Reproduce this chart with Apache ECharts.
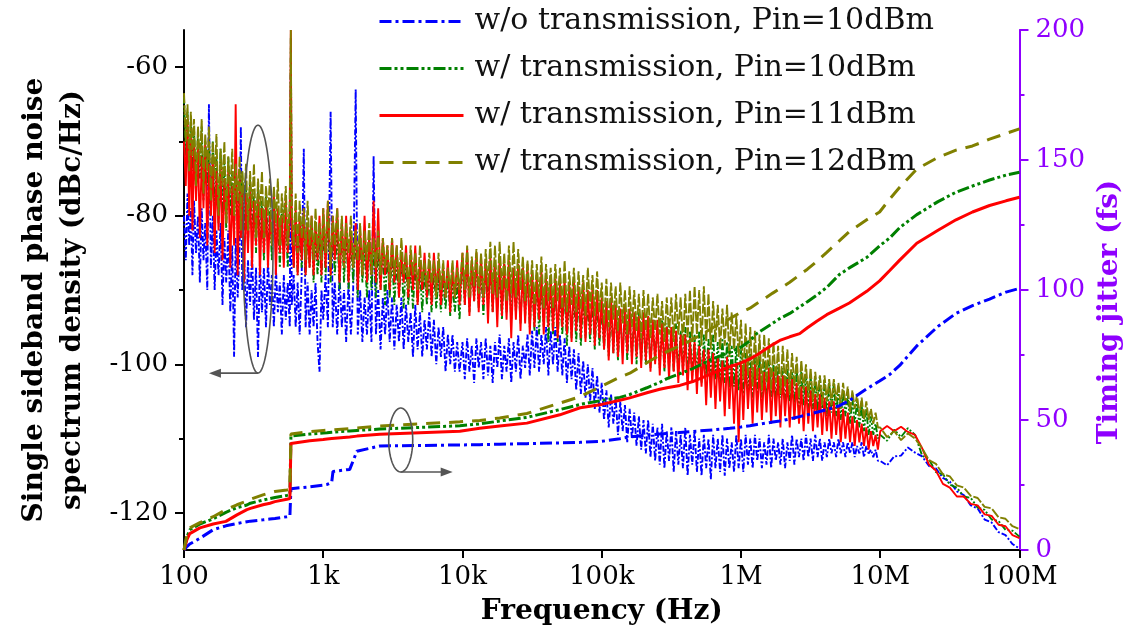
<!DOCTYPE html>
<html><head><meta charset="utf-8">
<script src="https://cdn.jsdelivr.net/npm/echarts@6/dist/echarts.min.js"></script>
<style>html,body{margin:0;padding:0;background:#fff}#c{width:1132px;height:640px}</style>
</head><body><div id="c"></div>
<script>
// ---------- DATA ----------
const seriesNames = ['w/o transmission, Pin=10dBm','w/ transmission, Pin=10dBm','w/ transmission, Pin=11dBm','w/ transmission, Pin=12dBm'];
const xTickLabels = ['100','1k','10k','100k','1M','10M','100M'];
const leftLabelValues = [-120,-100,-80,-60];
const leftMinorTickValues = [-110,-90,-70];

// phase-noise frequency grid (Hz)
const noiseFreq = [
100,103,106,109,112,115,118,122,126,130,134,138,142,147,151,156,161,166,171,177,
183,189,195,201,208,215,222,229,235,243,251,256,262,270,279,288,298,308,318,329,
340,351,363,375,388,401,414,428,442,457,472,488,504,521,538,556,575,585,594,614,
634,655,677,700,725,747,772,798,825,852,880,910,940,971,
1000,1040,1080,1130,1170,1210,1260,1310,1360,1410,1460,1520,1580,1640,1710,1770,1840,1910,1980,2060,
2140,2220,2300,2390,2480,2580,2680,2780,2890,3000,3120,3240,3370,3500,3640,3780,3930,4080,4240,4410,
4580,4760,4950,5140,5340,5550,5770,6000,6230,6480,6730,7000,7270,7560,7850,8160,8480,8810,9160,9520,
10000,10390,10800,11220,11660,12120,12590,13080,13590,14130,14680,15250,15850,16470,17110,17780,18480,19200,19950,20730,
21540,22390,23260,24180,25120,26100,27120,28180,29290,30430,31620,32860,34150,35480,36870,38310,39810,41370,42990,44670,
46420,48240,50120,52080,54120,56230,58430,60720,63100,65570,68130,70790,73560,76440,79430,82540,85770,89130,92610,96240,
1.000e5,1.039e5,1.080e5,1.122e5,1.166e5,1.212e5,1.259e5,1.308e5,1.359e5,1.413e5,1.468e5,1.525e5,1.585e5,1.647e5,1.711e5,1.778e5,1.848e5,1.920e5,1.995e5,2.073e5,
2.154e5,2.239e5,2.326e5,2.418e5,2.512e5,2.610e5,2.712e5,2.818e5,2.929e5,3.043e5,3.162e5,3.286e5,3.415e5,3.548e5,3.687e5,3.831e5,3.981e5,4.137e5,4.299e5,4.467e5,
4.642e5,4.824e5,5.012e5,5.208e5,5.412e5,5.623e5,5.843e5,6.072e5,6.310e5,6.557e5,6.813e5,7.079e5,7.356e5,7.644e5,7.943e5,8.254e5,8.577e5,8.913e5,9.261e5,9.624e5,
1.000e6,1.039e6,1.080e6,1.122e6,1.166e6,1.212e6,1.259e6,1.308e6,1.359e6,1.413e6,1.468e6,1.525e6,1.585e6,1.647e6,1.711e6,1.778e6,1.848e6,1.920e6,1.995e6,2.073e6,
2.154e6,2.239e6,2.326e6,2.418e6,2.512e6,2.610e6,2.712e6,2.818e6,2.929e6,3.043e6,3.162e6,3.286e6,3.415e6,3.548e6,3.687e6,3.831e6,3.981e6,4.137e6,4.299e6,4.467e6,
4.642e6,4.824e6,5.012e6,5.208e6,5.412e6,5.623e6,5.843e6,6.072e6,6.310e6,6.557e6,6.813e6,7.079e6,7.356e6,7.644e6,7.943e6,8.254e6,8.577e6,8.913e6,9.261e6,9.624e6,
1.00e7,1.12e7,1.26e7,1.41e7,1.58e7,1.78e7,2.00e7,2.24e7,2.51e7,2.82e7,3.16e7,3.55e7,3.98e7,4.47e7,5.01e7,
5.62e7,6.31e7,7.08e7,7.94e7,8.91e7,1.00e8];

// SSB phase noise (dBc/Hz)
const noiseWoP10 = [
-80,-86,-77,-84,-79,-88,-78,-85,-80,-89,-79,-86,-81,-90,-65,-87,-80,-90,-82,-88,
-81,-92,-83,-89,-82,-93,-84,-99,-83,-91,-84,-68,-90,-85,-95,-86,-92,-85,-94,-87,
-99,-86,-93,-87,-95,-86,-92,-88,-95,-87,-93,-89,-96,-88,-94,-89,-95,-61,-92,-88,
-95,-89,-96,-88,-71,-95,-89,-96,-90,-95,-89,-97,-101,-90,
-94,-88,-95,-66,-95,-89,-96,-88,-95,-90,-97,-89,-96,-90,-63,-96,-90,-97,-91,-96,
-90,-97,-72,-96,-90,-98,-91,-96,-90,-97,-91,-98,-92,-97,-91,-98,-92,-97,-93,-99,
-92,-98,-93,-99,-94,-98,-93,-99,-94,-100,-95,-99,-95,-101,-96,-100,-96,-101,-97,-101,
-97,-102,-96.5,-101,-97.5,-102.5,-96.5,-100.5,-97,-102,-96.5,-101.5,-97.5,-102.5,-97,-100.5,-96,-102,-97.5,-101,
-96.5,-102.5,-97,-101,-96,-102,-97.5,-100.5,-96,-101.5,-95.5,-100.5,-95,-101,-96,-100,-95,-101.5,-95.5,-100,
-95,-101,-96,-101.5,-96.5,-102.5,-97.5,-102,-98,-103.5,-98.5,-104,-99.5,-104.5,-100,-105,-100.5,-106,-101.5,-106.5,
-102.5,-107.5,-103.5,-108.5,-104,-108,-104.5,-109.5,-105,-109,-105.5,-110.5,-106,-110,-106.5,-111,-107,-111.5,-107.5,-112,
-107.5,-112.5,-108,-113,-108.5,-113.5,-108,-114,-109,-113,-108.5,-114.5,-109,-113.5,-109.5,-114,-108.5,-115,-109.5,-113.5,
-109,-114.5,-110,-115,-109.5,-114,-110,-115.5,-109.5,-114,-110,-114.5,-109.5,-115,-110,-114,-110.5,-114.5,-109.5,-114,
-110,-114.5,-109.5,-113.5,-110,-114,-109.5,-113,-110,-114,-110.5,-113.5,-109.5,-114,-110,-113,-110.5,-113.5,-110,-114,
-110.5,-113,-109.5,-113.5,-110,-112.5,-110,-113,-109.5,-112.5,-110,-113,-109.5,-112.5,-110,-113,-110.5,-112.5,-110,-112,
-110.5,-112.5,-110,-112,-110.5,-112.5,-110.5,-112,-110.5,-112.5,-111,-112,-110.5,-112.5,-111,-112,-111.5,-112.5,-111.5,-113,
-113,-113.6,-112.4,-112.3,-111.2,-111.9,-112.4,-113.7,-114,-115.3,-115.8,-117.1,-117.6,-119,-119.4,
-120.9,-121.3,-122.6,-123,-124.2,-124.8];
const noiseP10 = [
-64,-72,-66,-75,-67,-74,-68,-77,-69,-75,-68,-78,-70,-76,-71,-80,-70,-79,-72,-81,
-71,-80,-73,-82,-72,-80,-74,-83,-73,-81,-75,-83,-74,-82,-76,-84,-75,-83,-77,-85,
-76,-84,-78,-86,-77,-84,-79,-86,-78,-85,-80,-87,-79,-86,-80,-87,-79,-56,-81,-87,
-80,-88,-81,-87,-80,-88,-82,-87,-81,-89,-82,-88,-83,-89,
-81,-88,-80,-89,-81,-88,-82,-90,-81,-89,-82,-90,-83,-89,-82,-91,-83,-89,-84,-91,
-83,-90,-84,-91,-85,-90,-84,-92,-85,-91,-85,-92,-86,-91,-85,-92.5,-86,-92,-87,-92.5,
-86,-92,-87,-93,-87,-92,-88,-93,-87,-92.5,-88,-93,-89,-92.5,-88,-93.5,-89,-93,-89,-94,
-86,-92,-85.5,-93,-86.5,-91.5,-86,-92.5,-87,-93.5,-86.5,-92,-87,-93,-86,-92.5,-87.5,-94,-86.5,-93,
-87,-94,-87.5,-93,-88,-94.5,-87,-93.5,-88,-95,-88.5,-95.5,-88,-96,-89,-95,-88.5,-97,-89.5,-96,
-89,-97,-90,-96,-89.5,-97.5,-90,-96.5,-90.5,-97,-90.5,-97.5,-91,-96.5,-91.5,-97,-91,-98,-91.5,-97.5,
-92,-98,-91.5,-99,-92.5,-98.5,-92,-99.5,-93,-98.5,-92.5,-99.5,-93,-99,-93.5,-100,-93,-99.5,-94,-100,
-93.5,-100.5,-94,-99.5,-94.5,-100.5,-94,-101,-94.5,-100.5,-95,-101,-94.5,-101.5,-95.5,-101,-95,-102,-95.5,-101.5,
-96,-102,-95.5,-102.5,-96,-101.5,-96.5,-102.5,-96,-102,-97,-103,-96.5,-102.5,-97,-103.5,-97.5,-103,-97.5,-103.5,
-98,-104,-98.5,-103.5,-98.5,-104.5,-99,-104,-99,-104.5,-99.5,-105,-99.5,-104.5,-100,-105,-100,-104.5,-100.5,-105.5,
-100.5,-105,-101,-105.5,-100.5,-106,-101,-105.5,-101.5,-106,-101.5,-106,-102,-106.5,-101.5,-106,-102,-107,-102.5,-106.5,
-102.5,-107,-103,-107.5,-103.5,-107,-104,-108,-104.5,-108,-105,-108.5,-105.5,-109,-106,-109.5,-107,-109.5,-108,-110,
-109.5,-110.3,-108.8,-109.8,-108.6,-109.5,-112.3,-112.8,-114.5,-114.8,-116.2,-116.6,-117.8,-118,-119.3,
-119.6,-120.9,-121.1,-122.3,-122.4,-123.2];
const noiseP11 = [
-70,-76,-67,-80,-69,-82,-70,-78,-71,-83,-72,-79,-70,-84,-73,-80,-72,-85,-74,-82,
-73,-86,-75,-81,-74,-87,-76,-84,-65,-88,-75,-83,-76,-89,-77,-85,-76,-87,-78,-84,
-77,-88,-79,-85,-78,-87,-80,-84,-77,-88,-79,-85,-80,-87,-78,-85,-80,-55,-82,-87,
-79,-88,-80,-86,-79,-88,-81,-87,-80,-88,-81,-86,-80,-88,
-79,-87,-78,-88,-80,-86,-79,-89,-81,-87,-80,-89,-82,-87,-81,-90,-82,-88,-80,-89,
-83,-88,-78,-89,-79,-90,-83,-88,-84,-90,-83,-89,-84,-91,-85,-89,-84,-91,-85,-90,
-84,-92,-86,-90,-85,-91,-86,-92,-85,-90,-86,-92,-87,-91,-86,-93,-87,-91,-86,-92,
-85,-92,-84.5,-93.5,-86,-91.5,-85,-93,-85.5,-92,-86,-94.5,-85.5,-93,-86.5,-95,-85.5,-93.5,-86.5,-94,
-86,-96.5,-87,-94,-86.5,-95.5,-87,-94.5,-86.5,-96,-87.5,-95,-88,-94,-87.5,-96,-88.5,-95,-88,-95.5,
-88.5,-96.5,-89,-95,-88.5,-96,-89,-97,-88.5,-95.5,-89.5,-96.5,-89,-97,-90,-96,-89.5,-97.5,-90,-96.5,
-91,-98,-91.5,-99.5,-91,-98.5,-92,-99,-92.5,-100,-92,-98.5,-92.5,-100,-93,-99,-93.5,-100.5,-93,-99.5,
-93.5,-101,-94,-100,-94,-101.5,-94.5,-100.5,-95,-102,-95,-101,-95.5,-102.5,-96,-101.5,-96,-103.5,-96.5,-102.5,
-97,-104,-97.5,-103,-98,-105.5,-98,-104.5,-98.5,-106,-99,-105,-99.5,-107,-99,-106,-100,-108,-100,-110.5,
-100,-107.5,-99.5,-106,-100.5,-108,-100,-106.5,-100.5,-107.5,-101,-106.5,-100.5,-108,-101,-107,-101.5,-108.5,-101.5,-107,
-102,-108.5,-102,-107.5,-102.5,-108,-103,-109,-103,-108,-103.5,-109,-104,-108.5,-104,-109.5,-104.5,-109,-105,-110,
-105,-109.5,-105.5,-110.5,-106,-110,-106.5,-110.5,-107,-111,-107.5,-110.5,-108,-111,-108.5,-111.5,-109,-111,-109.5,-111.5,
-109,-108.3,-109,-108.4,-109.1,-109.5,-111.3,-113.5,-114.3,-116.1,-116.6,-117.8,-117.8,-118.8,-119,
-120.2,-120.4,-121.6,-121.8,-123,-123.4];
const noiseP12 = [
-63.5,-70,-65,-74,-66,-72,-67,-76,-68,-73,-67,-77,-69,-74,-68,-78,-70,-75,-69,-80,
-71,-76,-70,-81,-72,-77,-71,-80,-73,-78,-72,-82,-74,-78,-73,-82,-74,-79,-73,-83,
-75,-80,-74,-83,-76,-80,-75,-84,-76,-81,-75,-84,-77,-81,-76,-84,-78,-55,-79,-84,
-77,-85,-78,-83,-79,-86,-78,-84,-80,-86,-79,-85,-81,-86,
-79,-85,-78,-87,-80,-84,-79,-86,-80,-87,-81,-85,-80,-87,-82,-86,-81,-88,-82,-86,
-81,-88,-83,-87,-82,-88,-83,-87,-84,-89,-83,-88,-84,-89,-83,-88,-85,-90,-84,-88,
-85,-90,-84,-89,-86,-90,-85,-89,-86,-91,-85,-90,-86,-91,-87,-90,-86,-91,-87,-90,
-85,-90,-84,-91,-85.5,-89.5,-84.5,-90.5,-85,-91,-84.5,-89.5,-83.5,-90.5,-84,-91,-83.5,-90,-85,-91.5,
-84,-90.5,-83.5,-91,-84.5,-90,-85.5,-91.5,-86,-91,-86,-92,-86.5,-91,-85.5,-92.5,-86.5,-91.5,-87,-92.5,
-86.5,-91.5,-87,-92.5,-86,-93,-87.5,-92,-87,-93,-87.5,-92.5,-88,-93.5,-87,-92.5,-88,-93.5,-87.5,-93,
-89,-94.5,-88.5,-95,-89,-94,-89.5,-95.5,-89,-94.5,-90,-96,-89.5,-95,-90,-95.5,-90.5,-96.5,-90,-95.5,
-90.5,-96.5,-91,-95.5,-90.5,-96,-91.5,-97,-91,-96,-91,-97,-90.5,-96,-91,-97.5,-90.5,-96.5,-90,-97,
-89.5,-96,-90,-97.5,-89.5,-97,-90.5,-98,-91.5,-97,-92,-98,-92.5,-97.5,-92,-99,-93,-98,-93.5,-99,
-94,-102,-94.5,-101.5,-95,-103,-95.5,-102,-96,-103.5,-96,-102.5,-96.5,-103.5,-97,-102.5,-97.5,-104,-97.5,-103,
-98,-104,-98.5,-103,-99,-104.5,-99.5,-103.5,-100,-104.5,-100.5,-105,-101,-104.5,-101.5,-105.5,-101.5,-105,-102,-105.5,
-102,-105,-102.5,-106,-102.5,-105.5,-103,-106.5,-103.5,-106,-104,-107,-104.5,-107.5,-105,-107.5,-106,-108,-106.5,-108.5,
-108.5,-109.8,-109,-110.2,-109.3,-110,-111.3,-112.9,-113.4,-114.8,-115.1,-116.3,-116.6,-117.7,-118,
-119.2,-119.4,-120.6,-120.8,-121.8,-122.2];

// integrated timing jitter (fs)
const jitterFreq = [100,105,110,130,162,200,240,283,300,369,414,450,548,576,586,800,1000,1065,1150,1175,
1550,1745,2550,9570,13300,18500,29000,50000,70000,100000,135000,159000,211000,261000,294000,364000,451000,628000,832000,
1.0e6,1.16e6,1.3e6,1.69e6,1.9e6,2.24e6,2.64e6,3.0e6,3.5e6,4.13e6,5.1e6,6.0e6,8.0e6,9.9e6,
1.17e7,1.38e7,1.83e7,2.6e7,3.5e7,4.6e7,6.1e7,8.0e7,1.0e8];
const jitterWoP10 = [0,1.3,2.3,4.5,7.8,9.3,10.2,10.9,11.1,11.6,11.9,12.1,12.8,13,23.6,24.3,24.9,25.2,26,30.2,
31,38,40,40.4,40.5,40.7,40.9,41.2,41.4,41.8,42.8,43.5,44.2,44.6,44.8,45.2,45.6,46.2,46.8,
47.3,47.8,48.3,49.2,49.6,50.4,51.3,52,53,54,55.5,57.5,62,65,
67.5,71,78.5,86,91,94,96.5,99.2,100.6];
const jitterP10 = [0,5,7.8,10,12,14.5,16.3,17.3,18,19.2,19.8,20.2,21,21.3,43.8,44.6,45,45.1,45.3,45.4,
45.8,46,46.5,47.8,48.5,49.6,51,54,56,57.5,58.7,59.8,62.4,64.5,65.9,67.8,69.8,73.6,76,
78,80.5,83.3,87.2,89,91,93.5,95.5,98,101,106,108.5,112.5,117,
120,124,129,134,137.6,140,142.3,144.2,145.3];
const jitterP11 = [0,4,6.3,8.5,10,11,13.5,15.5,16,17.4,18,18.6,19.5,19.8,41,42,42.5,42.7,42.9,43,
43.5,43.8,44.5,45.7,46.8,47.7,48.8,52,54.7,56,57.6,58.5,60.5,61.8,62.4,63.3,64.8,68,70.5,
72,73.5,75,79,80.6,82,83.2,85.5,88,90.5,93,95,99.5,103.5,
107.5,111.5,118,123,127,130,132.5,134.3,135.7];
const jitterP12 = [0,6,8.5,10.5,12.8,15.5,17.4,18.8,19.5,21.2,22,22.5,23.1,23.3,44.6,45.5,46,46.1,46.2,46.3,
46.7,46.9,47.7,49.3,49.8,50.8,52.5,56.5,59,63,66.5,68,72,75,76.3,78.5,81,85.5,89,
91.5,93,94.8,98.8,100.5,103,105.8,108,111,114.5,119,122.5,127,130,
135,139.5,146.5,151,153.8,155.4,158,160.2,162];

// ---------- CHART ----------
const FONT = 'DejaVu Serif';
const PURPLE = '#8f00ff';
const colors = ['#0000ff','#008000','#ff0000','#808000'];
const jitterDash = [[12,4,3,4],[12,3,3,3,3,3],'solid',[14,9]];
const noiseDash = [[6,2,2,2],[7,2,2,2,2,2],'solid',[10,2]];
const noiseSets = [noiseWoP10, noiseP10, noiseP11, noiseP12];
const jitterSets = [jitterWoP10, jitterP10, jitterP11, jitterP12];
const pair = (xs, ys) => xs.map((x, i) => [x, ys[i]]);

const series = [];
seriesNames.forEach((n, i) => {
  series.push({
    type: 'line', name: n, xAxisIndex: 0, yAxisIndex: 1, z: 5,
    data: pair(jitterFreq, jitterSets[i]), symbol: 'none', animation: false,
    lineStyle: {color: colors[i], width: 3, type: jitterDash[i]},
    itemStyle: {color: colors[i]}
  });
});
seriesNames.forEach((n, i) => {
  series.push({
    type: 'line', name: n, xAxisIndex: 0, yAxisIndex: 0, z: 2,
    data: pair(noiseFreq, noiseSets[i]), symbol: 'none', animation: false,
    lineStyle: {color: colors[i], width: 1.9, type: noiseDash[i]},
    itemStyle: {color: colors[i]}
  });
});

const chart = echarts.init(document.getElementById('c'));
chart.setOption({
  animation: false,
  backgroundColor: '#fff',
  grid: {left: 184, right: 112, top: 30, bottom: 90, containLabel: false},
  legend: {
    data: seriesNames, orient: 'vertical', left: 378, top: 5, padding: 0,
    itemWidth: 84, itemHeight: 14, itemGap: 14,
    itemStyle: {opacity: 0},
    lineStyle: {width: 3},
    textStyle: {fontFamily: FONT, fontSize: 30, color: '#111', lineHeight: 33, padding: [0,0,0,6]}
  },
  xAxis: {
    type: 'log', logBase: 10, min: 100, max: 1e8,
    axisLine: {lineStyle: {color: '#000', width: 2}},
    axisTick: {show: true, length: 8, lineStyle: {color: '#000', width: 2}},
    axisLabel: {margin: 14, fontFamily: FONT, fontSize: 26, color: '#000',
      formatter: v => xTickLabels[Math.round(Math.log10(v)) - 2] || ''},
    splitLine: {show: false},
    name: 'Frequency (Hz)', nameLocation: 'middle', nameGap: 48,
    nameTextStyle: {fontFamily: FONT, fontSize: 28, fontWeight: 'bold', color: '#000'}
  },
  yAxis: [
    {
      type: 'value', position: 'left', min: -125, max: -55,
      axisLine: {show: true, lineStyle: {color: '#000', width: 2}},
      axisTick: {show: true, customValues: leftLabelValues, length: 9, lineStyle: {color: '#000', width: 2}},
      axisLabel: {customValues: leftLabelValues, margin: 16, fontFamily: FONT, fontSize: 26, color: '#000'},
      splitLine: {show: false},
      name: 'Single sideband phase noise\nspectrum density (dBc/Hz)',
      nameLocation: 'middle', nameRotate: 90, nameGap: 92,
      nameTextStyle: {fontFamily: FONT, fontSize: 28, fontWeight: 'bold', color: '#000', lineHeight: 38, align: 'center', padding: [0, 20, 0, 0]}
    },
    {
      type: 'value', position: 'right', min: 0, max: 200, interval: 50,
      axisLine: {show: true, lineStyle: {color: PURPLE, width: 2}},
      axisTick: {show: true, length: 9, lineStyle: {color: PURPLE, width: 2}},
      minorTick: {show: true, splitNumber: 2, length: 5, lineStyle: {color: PURPLE, width: 2}},
      axisLabel: {margin: 16, fontFamily: FONT, fontSize: 26, color: PURPLE},
      splitLine: {show: false},
      name: 'Timing jitter (fs)', nameLocation: 'middle', nameRotate: 90, nameGap: 70,
      nameTextStyle: {fontFamily: FONT, fontSize: 28, fontWeight: 'bold', color: PURPLE, padding: [0, 44, 0, 0]}
    },
    {
      type: 'value', position: 'left', min: -125, max: -55,
      axisLine: {show: false},
      axisTick: {show: true, customValues: leftMinorTickValues, length: 5, lineStyle: {color: '#000', width: 2}},
      axisLabel: {show: false},
      splitLine: {show: false}
    }
  ],
  series: series
});

// ---------- annotations (ellipses + arrows) ----------
function ellipse(cx, cy, rx, ry) {
  const pts = [];
  for (let k = 0; k < 90; k++) {
    const t = k / 90 * Math.PI * 2;
    pts.push([cx + rx * Math.cos(t), cy + ry * Math.sin(t)]);
  }
  return pts;
}
const GRAY = '#555';
const c1 = chart.convertToPixel({seriesIndex: 4}, [340, -84.5]);
const t1 = chart.convertToPixel({seriesIndex: 4}, [151, -84.5]);
const c2 = chart.convertToPixel({seriesIndex: 0}, [3600, 42.3]);
const t2 = chart.convertToPixel({seriesIndex: 0}, [8500, 42.3]);
const r1 = [15, 124], r2 = [12, 32];
const b1 = c1[1] + r1[1], b2 = c2[1] + r2[1];
chart.setOption({
  graphic: [
    {type: 'polygon', z: 100, shape: {points: ellipse(c1[0], c1[1], r1[0], r1[1])}, style: {fill: 'none', stroke: GRAY, lineWidth: 1.6}},
    {type: 'polyline', z: 100, shape: {points: [[c1[0], b1], [t1[0] + 10, b1]]}, style: {stroke: GRAY, lineWidth: 1.6}},
    {type: 'polygon', z: 100, shape: {points: [[t1[0], b1], [t1[0] + 12, b1 - 4.5], [t1[0] + 12, b1 + 4.5]]}, style: {fill: GRAY}},
    {type: 'polygon', z: 100, shape: {points: ellipse(c2[0], c2[1], r2[0], r2[1])}, style: {fill: 'none', stroke: GRAY, lineWidth: 1.6}},
    {type: 'polyline', z: 100, shape: {points: [[c2[0], b2], [t2[0] - 10, b2]]}, style: {stroke: GRAY, lineWidth: 1.6}},
    {type: 'polygon', z: 100, shape: {points: [[t2[0], b2], [t2[0] - 12, b2 - 4.5], [t2[0] - 12, b2 + 4.5]]}, style: {fill: GRAY}}
  ]
});
</script></body></html>
